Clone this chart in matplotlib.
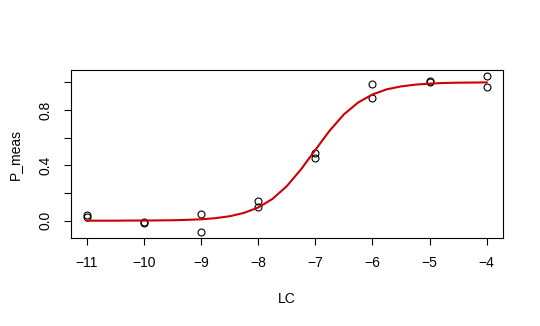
import matplotlib
matplotlib.use("Agg")
import matplotlib.pyplot as plt

plt.rcParams['font.family'] = ['Liberation Sans', 'DejaVu Sans']

# measured points (two replicates per concentration)
lc = [-11, -11, -10, -10, -9, -9, -8, -8, -7, -7, -6, -6, -5, -5, -4, -4]
p_meas = [0.04, 0.03, -0.01, -0.02, 0.045, -0.08, 0.145, 0.10,
          0.49, 0.45, 0.985, 0.885, 1.01, 1.0, 1.043, 0.965]

# fitted curve
curve_x = [-11, -10.75, -10.5, -10.25, -10, -9.75, -9.5, -9.25, -9, -8.75,
           -8.5, -8.25, -8, -7.75, -7.5, -7.25, -7, -6.75, -6.5, -6.25,
           -6, -5.75, -5.5, -5.25, -5, -4.75, -4.5, -4.25, -4]
curve_y = [0.0, 0.0, 0.0, 0.001, 0.001, 0.002, 0.003, 0.006, 0.010, 0.018,
           0.032, 0.056, 0.095, 0.157, 0.249, 0.371, 0.511, 0.650, 0.768, 0.854,
           0.912, 0.949, 0.970, 0.983, 0.990, 0.995, 0.997, 0.998, 0.999]

fig = plt.figure(figsize=(5.4, 3.26), dpi=100)
ax = fig.add_axes([0.131, 0.270, 0.800, 0.515])

ax.plot(lc, p_meas, 'o', mfc='none', mec='black', ms=5, mew=0.8)
ax.plot(curve_x, curve_y, color='#cc0000', lw=1.5)

ax.set_xlim(-11.28, -3.72)
ax.set_ylim(-0.125, 1.088)
ax.set_xticks(range(-11, -3))
ax.set_yticks([0.0, 0.2, 0.4, 0.6, 0.8, 1.0])
ax.set_yticklabels(['0.0', '', '0.4', '', '0.8', ''], rotation=90, va='center')

ax.tick_params(direction='out', length=5, width=0.8, labelsize=10, pad=8)
for s in ax.spines.values():
    s.set_linewidth(0.8)

ax.set_xlabel('LC', fontsize=10, labelpad=16)
ax.set_ylabel('P_meas', fontsize=10, labelpad=12)

fig.savefig('out.png', dpi=100)
